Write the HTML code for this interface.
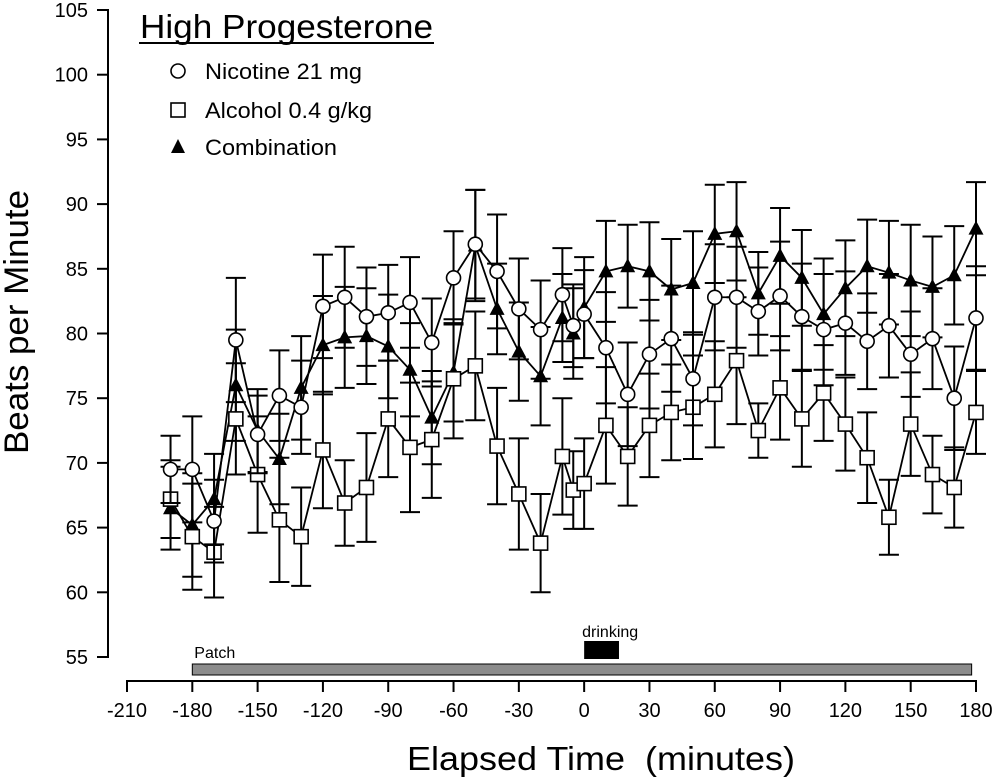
<!DOCTYPE html>
<html><head><meta charset="utf-8"><style>
body{margin:0;background:#fff;}
svg{display:block;font-family:"Liberation Sans",Arial,sans-serif;}
</style></head><body>
<svg id="chart" width="1000" height="780" viewBox="0 0 1000 780">
<g id="axes"></g><g id="marks"></g>
<g>
<text x="140" y="38" font-size="33" textLength="293" lengthAdjust="spacingAndGlyphs">High Progesterone</text>
<line x1="139" y1="43" x2="434" y2="43" stroke="#000" stroke-width="2"/>
<circle cx="178" cy="71" r="7" fill="#fff" stroke="#000" stroke-width="1.6"/>
<text x="205" y="79" font-size="22" textLength="157" lengthAdjust="spacingAndGlyphs">Nicotine 21 mg</text>
<rect x="171" y="103" width="14" height="14" fill="#fff" stroke="#000" stroke-width="1.6"/>
<text x="205" y="118" font-size="22" textLength="167" lengthAdjust="spacingAndGlyphs">Alcohol 0.4 g/kg</text>
<polygon points="178,139 185,153 171,153" fill="#000"/>
<text x="205" y="155" font-size="22" textLength="132" lengthAdjust="spacingAndGlyphs">Combination</text>
</g>
<text x="28" y="322" font-size="34" text-anchor="middle" textLength="264" lengthAdjust="spacingAndGlyphs" transform="rotate(-90 28 322)">Beats per Minute</text>
<text x="601" y="770" font-size="33" text-anchor="middle" textLength="388" lengthAdjust="spacingAndGlyphs" xml:space="preserve">Elapsed Time  (minutes)</text>
</svg>
<script>
const times=[-190,-180,-170,-160,-150,-140,-130,-120,-110,-100,-90,-80,-70,-60,-50,-40,-30,-20,-10,-5,0,10,20,30,40,50,60,70,80,90,100,110,120,130,140,150,160,170,180];
const nicotine=[69.5,69.5,65.5,79.5,72.2,75.2,74.3,82.1,82.8,81.3,81.6,82.4,79.3,84.3,86.9,84.8,81.9,80.3,83.0,80.6,81.5,78.9,75.3,78.4,79.6,76.5,82.8,82.8,81.7,82.9,81.3,80.3,80.8,79.4,80.6,78.4,79.6,75.0,81.2];
const nicotineErr=[2.6,4.1,3.2,4.8,3.0,3.5,3.6,4.0,3.9,3.8,3.7,3.5,3.4,3.6,4.2,4.4,3.9,3.8,3.6,3.2,3.4,4.3,4.0,4.2,4.1,3.6,4.1,3.9,3.4,4.2,4.1,4.3,4.0,3.7,4.0,3.3,3.9,4.0,4.0];
const alcohol=[67.2,64.3,63.1,73.4,69.1,65.6,64.3,71.0,66.9,68.1,73.4,71.2,71.8,76.5,77.5,71.3,67.6,63.8,70.5,67.9,68.4,72.9,70.5,72.9,73.9,74.3,75.3,77.9,72.5,75.8,73.4,75.4,73.0,70.4,65.8,73.0,69.1,68.1,73.9];
const alcoholErr=[3.0,4.1,3.5,4.3,4.5,4.8,3.8,4.5,3.3,4.2,4.5,5.0,4.5,4.6,4.2,4.5,4.3,3.8,4.5,3.0,3.5,4.5,3.8,4.0,3.7,4.0,4.1,4.9,2.1,4.0,3.7,3.7,3.6,3.5,2.9,4.0,3.0,3.1,3.2];
const combination=[66.5,65.2,67.2,76.0,72.5,70.3,75.8,79.1,79.7,79.8,79.0,77.2,73.5,77.0,86.8,81.9,78.6,76.7,81.2,80.0,82.0,84.8,85.2,84.8,83.4,83.9,87.7,87.9,83.1,86.0,84.3,81.5,83.5,85.2,84.7,84.1,83.6,84.5,88.1];
const combinationErr=[3.2,4.0,3.5,4.3,3.2,3.5,4.0,3.8,3.9,3.7,4.0,3.6,3.6,3.8,4.3,3.5,3.8,3.8,3.4,3.5,3.9,3.9,3.2,3.8,3.9,4.0,3.8,3.8,3.2,3.7,3.7,4.3,3.7,3.6,4.0,4.3,3.9,3.8,3.6];
const xTicks=[-210,-180,-150,-120,-90,-60,-30,0,30,60,90,120,150,180];
const yTicks=[55,60,65,70,75,80,85,90,95,100,105];

const NS="http://www.w3.org/2000/svg";
const X=v=>127+(v+210)*(976-127)/390;
const Y=v=>657-(v-55)*(657-10)/50;
function mk(tag,attrs,parent){const e=document.createElementNS(NS,tag);for(const k in attrs)e.setAttribute(k,attrs[k]);parent.appendChild(e);return e;}
const axes=document.getElementById('axes'),marks=document.getElementById('marks');
let yl=mk('line',{x1:108,y1:Y(105)-1,x2:108,y2:Y(55)+1,stroke:'#000','stroke-width':2},axes);


yTicks.forEach(t=>{mk('line',{x1:97,y1:Y(t),x2:108,y2:Y(t),stroke:'#000','stroke-width':2},axes);
 const tx=mk('text',{x:88,y:Y(t)+7,'font-size':20,'text-anchor':'end'},axes);tx.textContent=t;
 
 });
let xl=mk('line',{x1:X(-210)-1,y1:681,x2:X(180)+1,y2:681,stroke:'#000','stroke-width':2},axes);


xTicks.forEach(t=>{mk('line',{x1:X(t),y1:681,x2:X(t),y2:692,stroke:'#000','stroke-width':2},axes);
 const tx=mk('text',{x:X(t),y:717,'font-size':20,'text-anchor':'middle'},axes);tx.textContent=t;
 
 });
let patch=mk('rect',{x:X(-180),y:664,width:X(178)-X(-180),height:11,fill:'#8c8c8c',stroke:'#000','stroke-width':1},axes);


let pt=mk('text',{x:X(-180)+2,y:658,'font-size':16},axes);pt.textContent='Patch';


let dr=mk('rect',{x:X(0),y:641,width:X(16)-X(0),height:18,fill:'#000'},axes);


let dt=mk('text',{x:X(0)-2,y:637,'font-size':16},axes);dt.textContent='drinking';



function series(vals,errs,kind){
 const g=mk('g',{},marks);
 
 
 vals.forEach((v,i)=>{const x=X(times[i]);
  const eb=mk('path',{d:`M${x},${Y(v-errs[i])}V${Y(v+errs[i])}M${x-10},${Y(v-errs[i])}H${x+10}M${x-10},${Y(v+errs[i])}H${x+10}`,stroke:'#000','stroke-width':2,fill:'none'},g);
  
  });
 const ln=mk('polyline',{points:vals.map((v,i)=>X(times[i])+','+Y(v)).join(' '),fill:'none',stroke:'#000','stroke-width':1.8},g);
 
 
 vals.forEach((v,i)=>{const x=X(times[i]),y=Y(v);let m;
  if(kind==='nicotine')m=mk('circle',{cx:x,cy:y,r:7,fill:'#fff',stroke:'#000','stroke-width':1.6},g);
  else if(kind==='alcohol')m=mk('rect',{x:x-7,y:y-7,width:14,height:14,fill:'#fff',stroke:'#000','stroke-width':1.6},g);
  else m=mk('polygon',{points:`${x},${y-8} ${x+7.5},${y+6} ${x-7.5},${y+6}`,fill:'#000'},g);
  
  });
}
series(combination,combinationErr,'combination');
series(alcohol,alcoholErr,'alcohol');
series(nicotine,nicotineErr,'nicotine');
</script>
</body></html>
